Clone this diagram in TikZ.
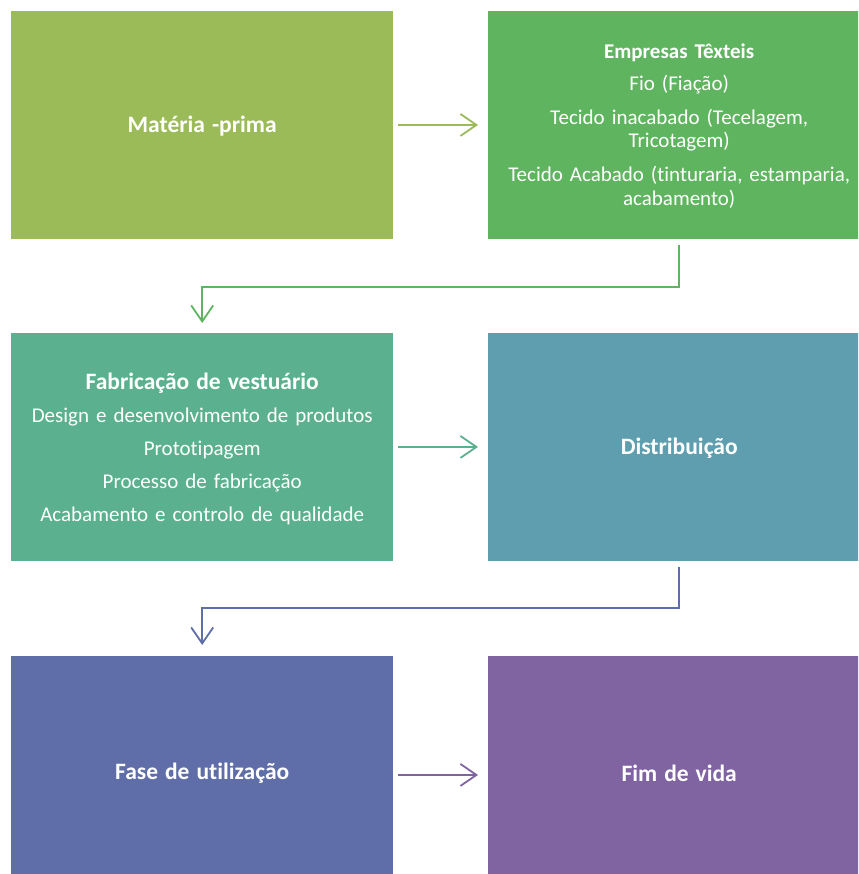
\documentclass[tikz,border=0pt]{standalone}
\usepackage{fontspec}
\setmainfont[Ligatures=NoCommon]{Carlito}
\usetikzlibrary{arrows.meta,calc}
\definecolor{c1}{HTML}{9BBB59}
\definecolor{c2}{HTML}{5FB55F}
\definecolor{c3}{HTML}{5BB18F}
\definecolor{c4}{HTML}{5F9EAF}
\definecolor{c5}{HTML}{5F6EA8}
\definecolor{c6}{HTML}{8064A2}
\newcommand{\bigb}[1]{{\fontsize{23.5}{26}\selectfont\textbf{#1}}}
\begin{document}
\begin{tikzpicture}[x=1pt,y=-1pt,
  box/.style={minimum width=382pt, minimum height=227.5pt, anchor=north west, inner sep=0pt},
  arr/.style={line width=1.8pt, -{Straight Barb[length=16pt,width=22pt,line width=1.8pt]}},
  blank/.style={inner sep=0pt, minimum size=0pt, text width=382pt, align=center, text=white, font=\fontsize{21}{23.5}\selectfont}]
\useasboundingbox (0,0) rectangle (858,874);
\clip (0,0) rectangle (858,874);
\node[box, fill=c1] (b1) at (11,11) {};
\node[box, fill=c2] (b2) at (488,11) {};
\node[box, fill=c3] (b3) at (11,333) {};
\node[box, fill=c4] (b4) at (488,333) {};
\node[box, fill=c5] (b5) at (11,656) {};
\node[box, fill=c6] (b6) at (488,656) {};
\node[blank] (t1) at ($(b1.center)+(0,1)$) {\bigb{Matéria -prima}};
\node[blank] (t2) at ($(b2.center)+(0,1)$) {\textbf{Empresas Têxteis}\\[8pt] Fio (Fiação)\\[10.5pt] Tecido inacabado (Tecelagem,\\ Tricotagem)\\[10.5pt] Tecido Acabado (tinturaria, estamparia,\\ acabamento)};
\node[blank] (t3) at ($(b3.center)+(0,2)$) {\bigb{Fabricação de vestuário}\\[10pt] Design e desenvolvimento de produtos\\[9.5pt] Prototipagem\\[9.5pt] Processo de fabricação\\[9.5pt] Acabamento e controlo de qualidade};
\node[blank] (t4) at ($(b4.center)+(0,1)$) {\bigb{Distribuição}};
\node[blank] (t5) at ($(b5.center)+(0,3)$) {\bigb{Fase de utilização}};
\node[blank] (t6) at ($(b6.center)+(0,3)$) {\bigb{Fim de vida}};
\draw[arr, c1] ($(b1.east)+(5,0)$) -- ($(b2.west)+(-10,0)$);
\draw[arr, c3] ($(b3.east)+(5,0)$) -- ($(b4.west)+(-10,0)$);
\draw[arr, c6] ($(b5.east)+(5,5)$) -- ($(b6.west)+(-10,5)$);
\draw[arr, c2] ($(b2.south)+(0,6)$) -- ++(0,42) -| ($(b3.north)+(0,-10)$);
\draw[arr, c5] ($(b4.south)+(0,6)$) -- ++(0,41) -| ($(b5.north)+(0,-11)$);
\end{tikzpicture}
\end{document}
